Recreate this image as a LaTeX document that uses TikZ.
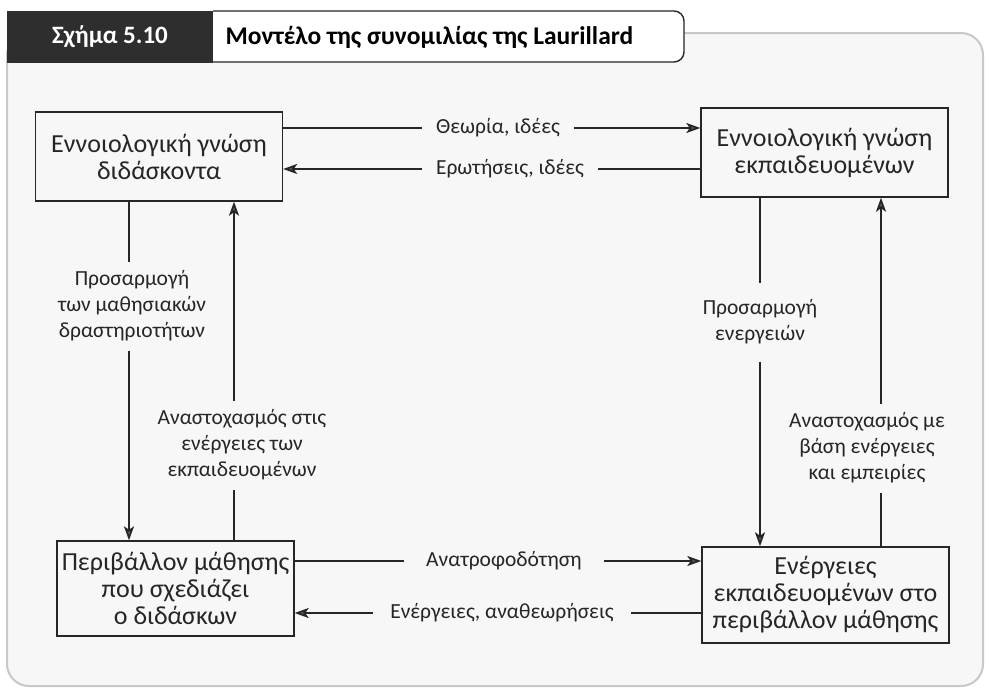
\documentclass[tikz,border=0pt]{standalone}
\usepackage{fontspec}
\setmainfont{Carlito}
\usetikzlibrary{arrows.meta,positioning}
\definecolor{LauInk}{HTML}{262626}
\definecolor{LauHead}{HTML}{2E2E2E}
\definecolor{LauPanel}{HTML}{F7F7F7}
\definecolor{LauEdge}{HTML}{C8C8C8}
\definecolor{LauTip}{HTML}{5E5E5E}

\begin{document}
\begin{tikzpicture}[
  x=1pt,y=-1pt,
  box/.style={draw=LauInk,line width=1.4pt,inner sep=0pt,align=center,text=LauInk,
    font=\fontsize{26}{27}\selectfont},
  lbl/.style={align=center,text=LauInk,inner xsep=14pt,inner ysep=9pt,
    font=\fontsize{21.5}{26}\selectfont},
  line/.style={draw=LauInk,line width=1.7pt},
  arr/.style={line,-{Stealth[length=14pt,width=10pt,inset=3.5pt,fill=LauTip]}}
]
\useasboundingbox (0,0) rectangle (986,689);
% panel and header
\draw[draw=LauEdge,line width=2pt,fill=LauPanel,rounded corners=22pt] (7,33) rectangle (983,686);
\fill[LauHead] (7,11) rectangle (213,63);
\filldraw[draw=LauInk,fill=white,line width=1.4pt,rounded corners=10pt] (213,11) -- (684,11) -- (684,62) -- (213,62);
\node[text=white,font=\bfseries\fontsize{25}{25}\selectfont] (fignum) at (110,37) {Σχήμα 5.10};
\node[anchor=west,text=black,font=\bfseries\fontsize{25.5}{25}\selectfont] (figtitle) at (222,37) {Μοντέλο της συνομιλίας της Laurillard};
% boxes
\node[box,minimum width=247pt,minimum height=89pt] (teacher) at (159,156.5) {Εννοιολογική γνώση\\διδάσκοντα};
\node[box,minimum width=247pt,minimum height=89pt] (learner) at (824.5,152.5) {Εννοιολογική γνώση\\εκπαιδευομένων};
\node[box,minimum width=237pt,minimum height=95pt] (envir) at (175.5,588.5) {Περιβάλλον μάθησης\\που σχεδιάζει\\ο διδάσκων};
\node[box,minimum width=247pt,minimum height=96pt] (actions) at (825.5,595) {Ενέργειες\\εκπαιδευομένων στο\\περιβάλλον μάθησης};
% horizontal connectors
\node[lbl] (theory) at (498,128) {Θεωρία, ιδέες};
\node[lbl] (questions) at (510,169) {Ερωτήσεις, ιδέες};
\node[lbl,inner xsep=22pt] (feedback) at (504,561) {Ανατροφοδότηση};
\node[lbl,inner xsep=17pt] (revisions) at (502,613) {Ενέργειες, αναθεωρήσεις};
\draw[line] (teacher.east |- theory) -- (theory);
\draw[arr] (theory) -- (learner.west |- theory);
\draw[line] (learner.west |- questions) -- (questions);
\draw[arr] (questions) -- (teacher.east |- questions);
\draw[line] (envir.east |- feedback) -- (feedback);
\draw[arr] (feedback) -- (actions.west |- feedback);
\draw[line] (actions.west |- revisions) -- (revisions);
\draw[arr] (revisions) -- (envir.east |- revisions);
% vertical connectors
\coordinate (xadapt) at (129,0);
\coordinate (xreflect) at (234,0);
\coordinate (xadjust) at (760,0);
\coordinate (xreview) at (881,0);
\node[lbl] (adapt) at (132,306) {Προσαρμογή\\των μαθησιακών\\δραστηριοτήτων};
\node[lbl] (reflect) at (242,445) {Αναστοχασμός στις\\ενέργειες των\\εκπαιδευομένων};
\node[lbl,inner ysep=17pt] (adjust) at (760,322) {Προσαρμογή\\ενεργειών};
\node[lbl] (review) at (867,448) {Αναστοχασμός με\\βάση ενέργειες\\και εμπειρίες};
\draw[line] (teacher.south -| xadapt) -- (adapt.north -| xadapt);
\draw[arr] (adapt.south -| xadapt) -- (envir.north -| xadapt);
\draw[line] (envir.north -| xreflect) -- (reflect.south -| xreflect);
\draw[arr] (reflect.north -| xreflect) -- (teacher.south -| xreflect);
\draw[line] (learner.south -| xadjust) -- (adjust.north -| xadjust);
\draw[arr] (adjust.south -| xadjust) -- (actions.north -| xadjust);
\draw[line] (actions.north -| xreview) -- (review.south -| xreview);
\draw[arr] (review.north -| xreview) -- (learner.south -| xreview);
\end{tikzpicture}
\end{document}
